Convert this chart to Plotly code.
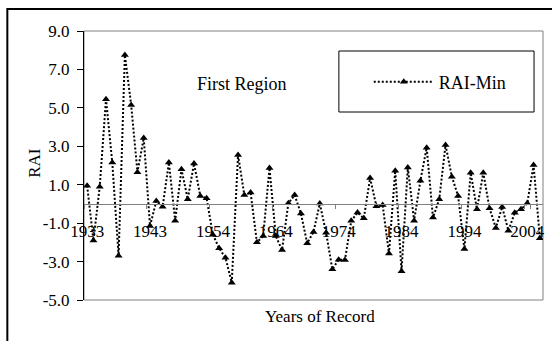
import plotly.graph_objects as go

# ---- data ----
years = [str(y) for y in list(range(1933, 1944)) + list(range(1945, 2007))]
rai_min = [0.95, -1.9, 0.9, 5.45, 2.15, -2.7, 7.75, 5.15, 1.65, 3.43,
           -1.15, 0.15, -0.15, 2.15, -0.87, 1.8, 0.25, 2.1, 0.41, 0.29,
           -1.6, -2.31, -2.8, -4.1, 2.55, 0.46, 0.59, -2.0, -1.67, 1.87,
           -1.67, -2.4, 0.03, 0.46, -0.5, -2.05, -1.46, 0.02, -1.5, -3.4,
           -2.9, -2.92, -0.88, -0.45, -0.75, 1.35, -0.12, -0.06, -2.58, 1.73,
           -3.5, 1.9, -0.87, 1.21, 2.93, -0.71, 0.24, 3.07, 1.42, 0.41,
           -2.35, 1.62, -0.28, 1.62, -0.23, -1.25, -0.16, -1.39, -0.46, -0.28,
           0.04, 2.02, -1.78]
x_tick_labels = years[0::10]
y_ticks = [9, 7, 5, 3, 1, -1, -3, -5]
y_tick_text = ["%.1f" % v for v in y_ticks]
series_name = "RAI-Min"

FONT = "Liberation Serif"
W, H = 552, 341
L, R, T, B = 84, 545, 31, 300
pw, ph = R - L, B - T

def px(x):
    return (x - L) / pw

def py(y):
    return (B - y) / ph

fig = go.Figure()
fig.add_trace(go.Scatter(
    x=years, y=rai_min, name=series_name, mode="lines+markers",
    line=dict(color="black", width=2, dash="2px,2px"),
    marker=dict(symbol="triangle-up", size=7, color="black"),
))

fig.update_layout(
    width=W, height=H,
    margin=dict(l=L, r=W - R, t=T, b=H - B, pad=0),
    paper_bgcolor="white", plot_bgcolor="white",
    font=dict(family=FONT, size=17, color="black"),
    showlegend=True,
    legend=dict(x=px(370), y=py(82), xanchor="left", yanchor="middle",
                bgcolor="rgba(0,0,0,0)", borderwidth=0,
                font=dict(family=FONT, size=18, color="black"),
                itemwidth=60),
    xaxis=dict(type="category", categoryorder="array", categoryarray=years,
               range=[-0.5, len(years) - 0.5],
               tickmode="array", tickvals=x_tick_labels, ticktext=x_tick_labels,
               tickson="boundaries", tickangle=0,
               ticks="outside", ticklen=4, tickcolor="#808080", tickwidth=1,
               anchor="free", position=5 / 14,
               showline=True, linecolor="#808080", linewidth=1,
               showgrid=False, zeroline=False,
               ticklabelstandoff=12,
               tickfont=dict(family=FONT, size=17, color="black")),
    yaxis=dict(range=[-5, 9], tickmode="array", tickvals=y_ticks, ticktext=y_tick_text,
               ticks="outside", ticklen=6, tickcolor="black",
               showline=True, linecolor="black", linewidth=1,
               showgrid=False, zeroline=False,
               ticklabelstandoff=4,
               tickfont=dict(family=FONT, size=17, color="black")),
)

shapes = [
    dict(type="rect", xref="paper", yref="paper", x0=0, x1=1, y0=0, y1=1,
         line=dict(color="#808080", width=1), layer="below"),
    dict(type="rect", xref="paper", yref="paper", x0=px(7), x1=px(570), y0=py(360), y1=py(9),
         line=dict(color="black", width=2)),
    dict(type="rect", xref="paper", yref="paper", x0=px(340), x1=px(536), y0=py(112), y1=py(51),
         line=dict(color="black", width=1)),
]
fig.update_layout(shapes=shapes)

fig.add_annotation(text="First Region", xref="paper", yref="paper", x=px(242.5), y=py(72),
                   showarrow=False, font=dict(family=FONT, size=18, color="black"))
fig.add_annotation(text="RAI", xref="paper", yref="paper", x=px(22), y=py(163), textangle=-90,
                   showarrow=False, font=dict(family=FONT, size=17, color="black"))
fig.add_annotation(text="Years of Record", xref="paper", yref="paper", x=px(321), y=py(328),
                   showarrow=False, font=dict(family=FONT, size=17, color="black"))

fig.write_html("out.html")
